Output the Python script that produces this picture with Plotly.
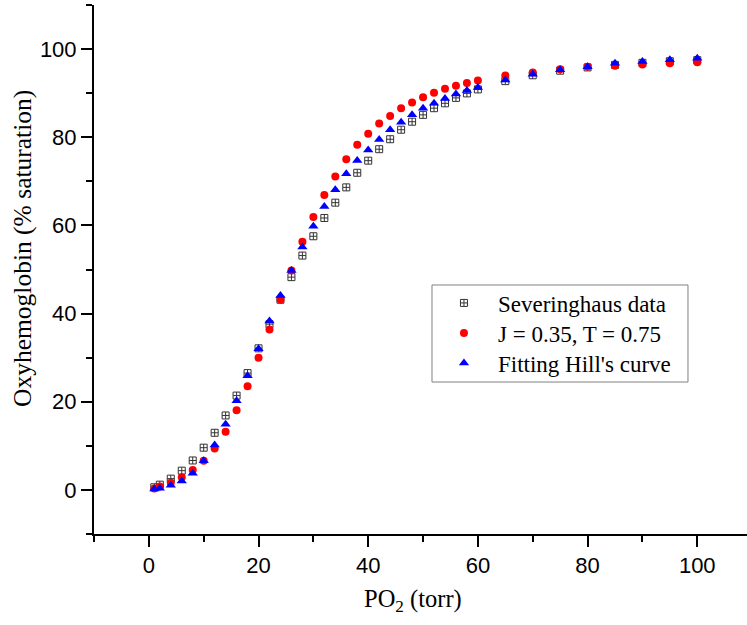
import plotly.graph_objects as go

po2 = [1, 2, 4, 6, 8, 10, 12, 14, 16, 18, 20, 22, 24, 26, 28, 30, 32, 34, 36, 38,
       40, 42, 44, 46, 48, 50, 52, 54, 56, 58, 60, 65, 70, 75, 80, 85, 90, 95, 100]

severinghaus = [0.6, 1.19, 2.56, 4.37, 6.68, 9.58, 12.96, 16.89, 21.40, 26.50,
                32.12, 37.60, 43.14, 48.27, 53.16, 57.54, 61.69, 65.16, 68.63, 71.94,
                74.69, 77.29, 79.55, 81.71, 83.52, 85.08, 86.59, 87.70, 88.93, 89.95,
                90.85, 92.73, 94.06, 95.10, 95.84, 96.42, 96.88, 97.25, 97.49]

model_jt = [0.3, 0.75, 1.65, 2.9, 4.5, 6.6, 9.4, 13.2, 18.1, 23.5,
            30.0, 36.4, 43.2, 49.8, 56.3, 61.9, 66.9, 71.1, 75.0, 78.3,
            80.8, 83.1, 84.8, 86.6, 87.9, 89.1, 90.1, 91.0, 91.7, 92.3,
            92.9, 94.0, 94.7, 95.4, 96.0, 96.2, 96.5, 96.8, 97.0]

hill_fit = [0.2, 0.4, 1.05, 2.0, 3.8, 6.6, 10.2, 14.9, 20.2, 25.9,
            32.0, 38.3, 44.1, 49.8, 55.1, 59.8, 64.3, 68.1, 71.7, 74.7,
            77.1, 79.5, 81.7, 83.4, 85.1, 86.6, 87.7, 88.8, 89.8, 90.6,
            91.3, 93.0, 94.3, 95.3, 96.0, 96.8, 97.2, 97.6, 97.9]

names = ["Severinghaus data", "J = 0.35, T = 0.75", "Fitting Hill's curve"]
x_title = "PO<sub>2</sub> (torr)"
y_title = "Oxyhemoglobin (% saturation)"

serif = "Liberation Serif, Times New Roman"
sans = "Liberation Sans, Arial"

fig = go.Figure()
fig.add_trace(go.Scatter(x=po2, y=severinghaus, mode="markers", name=names[0],
                         legend="legend",
                         marker=dict(symbol="square-cross-open", size=7, color="#333333",
                                     line=dict(width=1, color="#333333"))))
fig.add_trace(go.Scatter(x=po2, y=model_jt, mode="markers", name=names[1],
                         legend="legend2",
                         marker=dict(symbol="circle", size=8, color="#ff0000")))
fig.add_trace(go.Scatter(x=po2, y=hill_fit, mode="markers", name=names[2],
                         legend="legend3",
                         marker=dict(symbol="triangle-up", size=9, color="#0000ff")))

tickfont = dict(family=sans, size=22, color="black")
legfont = dict(family=serif, size=23, color="black")

def leg(yc):
    return dict(x=0.5145, y=yc, xanchor="left", yanchor="middle",
                bgcolor="rgba(0,0,0,0)", borderwidth=0, font=legfont, itemwidth=58)

fig.update_layout(
    width=747, height=625,
    margin=dict(l=94, r=0, t=5, b=91),
    paper_bgcolor="white", plot_bgcolor="white",
    showlegend=True,
    legend=leg(0.4367),
    legend2=leg(0.3800),
    legend3=leg(0.3233),
    xaxis=dict(range=[-10, 109.07], tick0=0, dtick=20, ticks="outside", ticklen=11,
               tickwidth=2, tickcolor="black", showline=True, linecolor="black",
               linewidth=2, showgrid=False, zeroline=False, tickfont=tickfont,
               minor=dict(dtick=10, tick0=0, ticks="outside", ticklen=6, tickwidth=2,
                          tickcolor="black", showgrid=False)),
    yaxis=dict(range=[-10, 110], tick0=0, dtick=20, ticks="outside", ticklen=11,
               tickwidth=2, tickcolor="black", showline=True, linecolor="black",
               linewidth=2, showgrid=False, zeroline=False, tickfont=tickfont,
               minor=dict(dtick=10, tick0=0, ticks="outside", ticklen=6, tickwidth=2,
                          tickcolor="black", showgrid=False)),
    shapes=[dict(type="rect", xref="paper", yref="paper",
                 x0=0.5176, x1=0.9096, y0=0.2873, y1=0.4707,
                 line=dict(color="#808080", width=1), fillcolor="rgba(0,0,0,0)",
                 layer="below")],
    annotations=[
        dict(text=x_title, xref="paper", yref="paper", x=0.4885, y=-0.1248,
             xanchor="center", yanchor="middle", showarrow=False,
             font=dict(family=serif, size=24.5, color="black")),
        dict(text=y_title, xref="paper", yref="paper", x=-0.1103, y=0.5406,
             xanchor="center", yanchor="middle", showarrow=False, textangle=-90,
             font=dict(family=serif, size=25.5, color="black")),
    ],
)

fig.write_html("out.html")
